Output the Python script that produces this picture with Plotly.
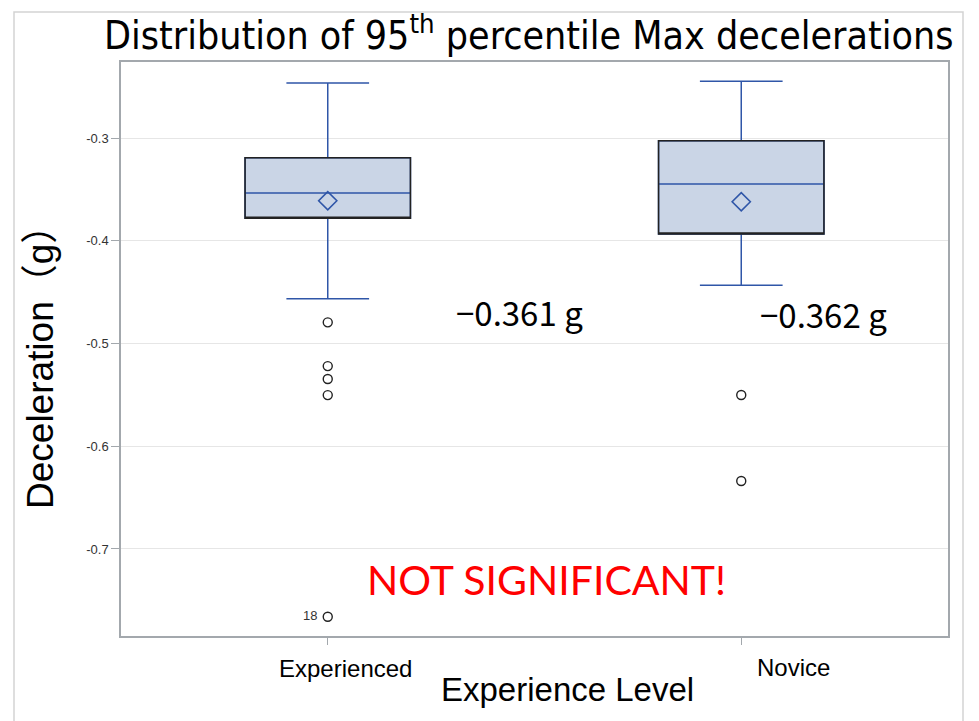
import plotly.graph_objects as go

# ---- data ----
groups = ["Experienced", "Novice"]
q1 = [-0.3782, -0.3934]
median = [-0.3535, -0.3448]
q3 = [-0.3192, -0.3026]
lower_whisker = [-0.4564, -0.4434]
upper_whisker = [-0.2465, -0.2448]
means = [-0.361, -0.362]
mean_labels = ["\u22120.361 g", "\u22120.362 g"]

exp_outliers = [-0.4794, -0.5220, -0.5345, -0.5502, -0.7660]
exp_outlier_labels = ["", "", "", "", "18 "]
nov_outliers = [-0.5501, -0.6338]

y_ticks = [-0.3, -0.4, -0.5, -0.6, -0.7]
y_tick_labels = ["-0.3", "-0.4", "-0.5", "-0.6", "-0.7"]

BLUE = "#2F56A8"
FILL = "#CAD5E6"
CJK = "Noto Sans CJK JP"
SANS = "Liberation Sans, Arial, Noto Sans CJK JP"
NARROW = "Liberation Sans Narrow, DejaVu Sans Condensed, Liberation Sans"

fig = go.Figure()

# main box (blue lines: whiskers, median, border)
fig.add_trace(go.Box(
    x=groups, q1=q1, median=median, q3=q3,
    lowerfence=lower_whisker, upperfence=upper_whisker,
    fillcolor=FILL, line=dict(color=BLUE, width=1.5),
    width=0.4, whiskerwidth=0.5, boxpoints=False,
    showlegend=False, hoverinfo="skip"))

# black box outline on top
fig.add_trace(go.Box(
    x=groups, q1=q1, median=q1, q3=q3,
    lowerfence=q1, upperfence=q3,
    fillcolor="rgba(0,0,0,0)", line=dict(color="#222222", width=1.5),
    width=0.4, whiskerwidth=0, boxpoints=False,
    showlegend=False, hoverinfo="skip"))

# means
fig.add_trace(go.Scatter(
    x=groups, y=means, mode="markers",
    marker=dict(symbol="diamond-open", size=14, color=BLUE, line=dict(width=1.6, color=BLUE)),
    showlegend=False, hoverinfo="skip"))

# outliers
fig.add_trace(go.Scatter(
    x=[groups[0]] * len(exp_outliers), y=exp_outliers, mode="markers+text",
    text=exp_outlier_labels, textposition="middle left",
    textfont=dict(family="Liberation Sans, Arial", size=13, color="#333333"),
    marker=dict(symbol="circle-open", size=9, color="#222222", line=dict(width=1.4, color="#222222")),
    showlegend=False, hoverinfo="skip"))
fig.add_trace(go.Scatter(
    x=[groups[1]] * len(nov_outliers), y=nov_outliers, mode="markers",
    marker=dict(symbol="circle-open", size=9, color="#222222", line=dict(width=1.4, color="#222222")),
    showlegend=False, hoverinfo="skip"))

fig.update_layout(
    width=979, height=721,
    margin=dict(l=121, r=31, t=62, b=85),
    paper_bgcolor="white", plot_bgcolor="white",
    boxmode="overlay",
    xaxis=dict(
        type="category", categoryorder="array", categoryarray=groups,
        range=[-0.5, 1.5], showgrid=False, zeroline=False,
        showline=True, linecolor="#A3A8AD", linewidth=1.5, mirror=True,
        ticks="outside", ticklen=7, tickcolor="#A3A8AD", tickwidth=1,
        showticklabels=False),
    yaxis=dict(
        range=[-0.7847, -0.226], tickvals=y_ticks, ticktext=y_tick_labels,
        showgrid=True, gridcolor="#E6E6E6", gridwidth=1, zeroline=False,
        showline=True, linecolor="#A3A8AD", linewidth=1.5, mirror=True,
        ticks="outside", ticklen=8, tickcolor="#A3A8AD", tickwidth=1,
        tickfont=dict(family="Liberation Sans, Arial", size=13, color="#333333")),
    shapes=[dict(type="rect", xref="paper", yref="paper",
                 x0=(14 - 121) / 827, x1=(963 - 121) / 827,
                 y0=-0.25, y1=(636 - 12) / 574,
                 line=dict(color="#D3D3D3", width=1.5), fillcolor="rgba(0,0,0,0)",
                 layer="below")],
)


def a(text, px, py, family, size, color="black", angle=0):
    return dict(text=text, xref="paper", yref="paper",
                x=(px - 121) / 827, y=(636 - py) / 574,
                xanchor="center", yanchor="middle", textangle=angle,
                showarrow=False, font=dict(family=family, size=size, color=color))


ann = [
    a("Distribution of 95<sup>th</sup> percentile Max decelerations", 529, 33, NARROW, 39),
    a("Deceleration\uff08g\uff09", 40, 358, SANS, 37, angle=-90),
    a("Experience Level", 567, 690, SANS, 33),
    a(groups[0], 345, 668, SANS, 24),
    a(groups[1], 793, 667, SANS, 24),
    a(mean_labels[0], 519, 312, CJK, 33),
    a(mean_labels[1], 823, 314, CJK, 33),
    a("NOT SIGNIFICANT!", 546, 579, "Lato, Open Sans", 41, color="#FF0000"),
]
fig.update_layout(annotations=ann)

fig.write_html("out.html")
